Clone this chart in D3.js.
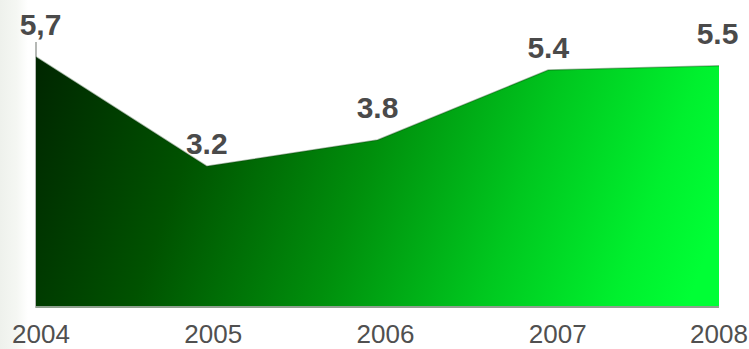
<!DOCTYPE html>
<html>
<head>
<meta charset="utf-8">
<script src="https://cdn.jsdelivr.net/npm/d3@7"></script>
<style>
  html, body { margin: 0; padding: 0; background: #ffffff; }
  svg { display: block; }
</style>
</head>
<body>
<svg id="chart" width="749" height="349"></svg>
<script>
// Yearly values shown on the area chart
const years = [2004, 2005, 2006, 2007, 2008];
const values = [5.7, 3.2, 3.8, 5.4, 5.5];
const valueLabels = ["5,7", "3.2", "3.8", "5.4", "5.5"];
const yearLabels = ["2004", "2005", "2006", "2007", "2008"];

const W = 749, H = 349;
const svg = d3.select("#chart");
const defs = svg.append("defs");

// soft grey band on the left edge of the page
const side = defs.append("linearGradient").attr("id", "side")
  .attr("x1", 0).attr("x2", 1).attr("y1", 0).attr("y2", 0);
side.append("stop").attr("offset", 0).attr("stop-color", "#eef1ec");
side.append("stop").attr("offset", 0.6).attr("stop-color", "#f5f7f3");
side.append("stop").attr("offset", 1).attr("stop-color", "#ffffff");
svg.append("rect").attr("x", 0).attr("y", 0).attr("width", 28).attr("height", H)
  .attr("fill", "url(#side)");

const x = d3.scaleLinear().domain([2004, 2008]).range([36, 719]);
const y = d3.scaleLinear().domain([0, 5.7]).range([306, 57]);

// dark-to-bright green fill
const grad = defs.append("linearGradient").attr("id", "fillGrad")
  .attr("gradientUnits", "userSpaceOnUse")
  .attr("x1", 36).attr("y1", 60).attr("x2", 690).attr("y2", 300);
[[0, "#002600"], [0.25, "#005200"], [0.5, "#008f0c"], [0.72, "#00c81f"], [0.9, "#00f02e"], [1, "#00ff35"]]
  .forEach(([o, c]) => grad.append("stop").attr("offset", o).attr("stop-color", c));

const pts = years.map((yr, i) => ({ yr, v: values[i] }));

const area = d3.area()
  .x(d => x(d.yr))
  .y0(y(0))
  .y1(d => y(d.v));

const line = d3.line()
  .x(d => x(d.yr))
  .y(d => y(d.v));

// vertical axis line
svg.append("line")
  .attr("x1", x(2004)).attr("x2", x(2004))
  .attr("y1", y(5.7) - 15).attr("y2", y(0) + 2)
  .attr("stroke", "#b5b8b5").attr("stroke-width", 2);

svg.append("path").datum(pts)
  .attr("d", area)
  .attr("fill", "url(#fillGrad)");

// darker rim along the top edge
svg.append("path").datum(pts)
  .attr("d", line)
  .attr("fill", "none")
  .attr("stroke", "#0a3a0a")
  .attr("stroke-opacity", 0.35)
  .attr("stroke-width", 1.5);

// baseline
svg.append("line")
  .attr("x1", x(2004)).attr("x2", x(2008))
  .attr("y1", y(0) + 1).attr("y2", y(0) + 1)
  .attr("stroke", "#8fa08f").attr("stroke-width", 2);

// value labels above each point, alternating heights
const vFont = 30;
svg.append("g").selectAll("text").data(pts).join("text")
  .attr("x", (d, i) => {
    const w = valueLabels[i].length * 0.5 * vFont;
    return Math.min(Math.max(x(d.yr), 18 + w / 2), 740 - w / 2);
  })
  .attr("y", (d, i) => y(d.v) - (i % 2 === 0 ? 22 : 12))
  .attr("text-anchor", "middle")
  .attr("font-family", "Liberation Sans, Arial, sans-serif")
  .attr("font-weight", "bold")
  .attr("font-size", vFont)
  .attr("fill", "#4a4a4a")
  .text((d, i) => valueLabels[i]);

// year labels along the bottom
const xl = d3.scaleLinear().domain([2004, 2008]).range([41, 730]);
svg.append("g").selectAll("text").data(years).join("text")
  .attr("x", d => Math.min(xl(d), 719))
  .attr("y", 343)
  .attr("text-anchor", "middle")
  .attr("font-family", "Liberation Sans, Arial, sans-serif")
  .attr("font-size", 26)
  .attr("fill", "#505050")
  .text((d, i) => yearLabels[i]);
</script>
</body>
</html>
